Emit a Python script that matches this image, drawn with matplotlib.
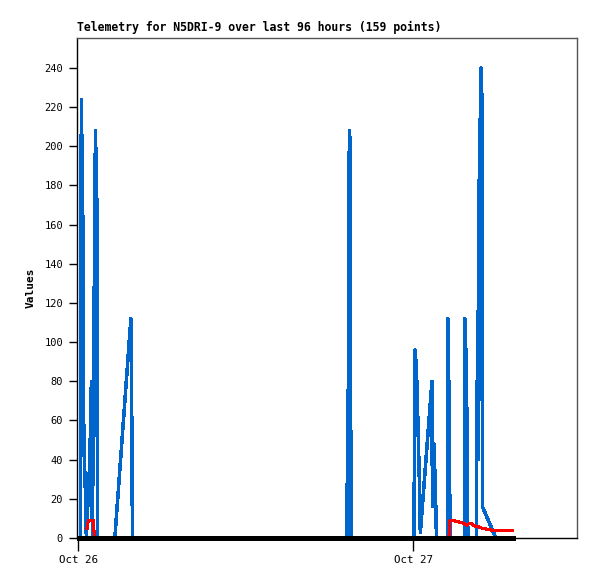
import matplotlib
matplotlib.use("Agg")
import matplotlib.pyplot as plt

nan = float("nan")

# hours since Oct 26 00:00
blue_t = [0.14, 0.21, 0.32, 0.39, 0.50, 0.57, 0.82, 0.93, 1.00, 1.22, 1.33, 1.36,
          2.61, 3.76, 3.83, 3.87,
          19.24, 19.27, 19.34, 19.41, 19.49, 19.52,
          24.04, 24.11, 24.21, 24.29, 24.36, 24.43, 24.47, 24.50, 25.33, 25.36,
          25.47, 25.58, 25.65,
          26.44, 26.47, 26.58, 26.62,
          27.65, 27.69, 27.80, 27.87, 27.90,
          28.51, 28.55, 28.62, 28.66, 28.76, 28.84, 28.91, 28.94, 29.91]
blue_v = [0, 224, 160, 48, 24, 0, 40, 80, 0, 208, 168, 0,
          0, 112, 56, 0,
          0, 40, 80, 208, 200, 0,
          0, 96, 88, 68, 48, 28, 8, 3, 80, 16,
          48, 24, 0,
          0, 112, 56, 0,
          0, 112, 84, 28, 0,
          0, 80, 40, 160, 200, 240, 224, 16, 0]

red_t = [0.61, 0.72, 1.07, 1.15, 13.0, 26.54, 26.62, 26.97, 27.19, 27.47, 27.69, 27.83,
         27.98, 28.19, 28.33, 28.55, 28.76, 28.98, 29.48, 29.70, 31.13]
red_v = [5, 9, 9, 0, nan, 0, 8.8, 8.7, 8.3, 7.8, 7.2, 6.5,
         7.3, 7.2, 6.3, 5.8, 5.5, 4.8, 4.3, 3.7, 3.7]

black_t = [0.04, 31.13]
black_v = [0, 0]

yticks = list(range(0, 241, 20))
xtick_pos = [0, 24]
xtick_labels = ["Oct 26", "Oct 27"]
title = "Telemetry for N5DRI-9 over last 96 hours (159 points)"

W, H = 597, 579
fig = plt.figure(figsize=(W / 100, H / 100), dpi=100)
ax = fig.add_axes([77 / W, 1 - 538 / H, 500 / W, 500 / H])

ax.plot(blue_t, blue_v, color="#0066cc", lw=1.8, antialiased=False, zorder=2)
ax.plot(red_t, red_v, color="#ff0000", lw=1.5, antialiased=False, zorder=2.1)
ax.plot(black_t, black_v, color="#000000", lw=2.2, antialiased=False, zorder=3,
        clip_on=False)

ax.set_xlim(-0.1, 35.72)
ax.set_ylim(0, 255.3)
ax.set_yticks(yticks)
ax.set_yticklabels([str(v) for v in yticks], family="DejaVu Sans Mono", fontsize=7.5)
ax.set_xticks(xtick_pos)
ax.set_xticklabels(xtick_labels, family="DejaVu Sans Mono", fontsize=7.8)
ax.tick_params(axis="y", direction="out", length=6, width=1, pad=4)
ax.tick_params(axis="x", direction="out", length=9, width=1, pad=3)

for s in ax.spines.values():
    s.set_linewidth(1)
    s.set_color("#000000")
ax.spines["top"].set_color("#555555")
ax.spines["right"].set_color("#555555")

ax.set_ylabel("Values", family="DejaVu Sans Mono", fontweight="bold", fontsize=8, labelpad=6)
fig.text(77 / W, 1 - 31 / H, title, family="DejaVu Sans Mono", fontweight="bold",
         fontsize=8.3, ha="left", va="baseline")

fig.savefig("out.png", dpi=100)
